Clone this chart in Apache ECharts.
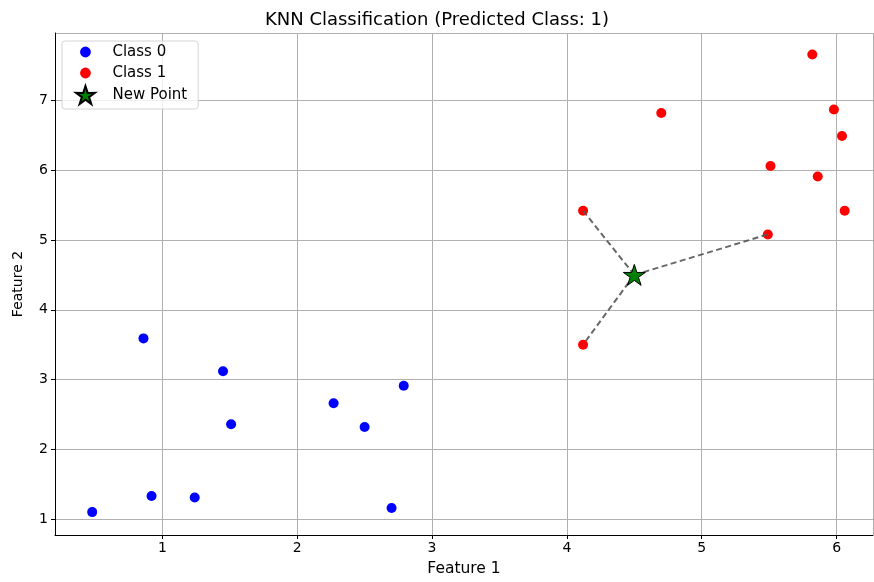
<!DOCTYPE html>
<html>
<head>
<meta charset="utf-8">
<script src="https://cdn.jsdelivr.net/npm/echarts@6/dist/echarts.min.js"></script>
<style>
  html, body { margin: 0; padding: 0; background: #fff; }
  #chart { width: 874px; height: 582px; }
</style>
</head>
<body>
<div id="chart"></div>
<script>
// data
const class0 = [
  [0.48, 1.10], [0.86, 3.59], [0.92, 1.33], [1.24, 1.31], [1.45, 3.12],
  [1.51, 2.36], [2.27, 2.66], [2.50, 2.32], [2.79, 2.91], [2.70, 1.16]
];
const class1 = [
  [5.82, 7.66], [4.70, 6.82], [5.98, 6.87], [6.04, 6.49], [5.51, 6.06],
  [5.86, 5.91], [4.12, 5.42], [6.06, 5.42], [5.49, 5.08], [4.12, 3.50]
];
const newPoint = [4.5, 4.5];
const neighbours = [[4.12, 5.42], [4.12, 3.50], [5.49, 5.08]];
const predicted = 1;

const starPath = 'path://M50 0 L61.17 34.63 L97.55 34.55 L68.07 55.87 L79.39 90.45 L50 69 L20.61 90.45 L31.93 55.87 L2.45 34.55 L38.83 34.63 Z';
// circle with invisible padding so the legend dot stays small
const dotPath = 'path://M0 0 M20 20 M10 4 A6 6 0 1 1 9.99 4 Z';

const font = 'DejaVu Sans';
const chart = echarts.init(document.getElementById('chart'));

const lineSeries = neighbours.map(n => ({
  type: 'line',
  data: [newPoint, n],
  symbol: 'none',
  silent: true,
  z: 3,
  lineStyle: { color: '#555', opacity: 0.9, width: 2, type: [6, 3.5] }
}));

chart.setOption({
  animation: false,
  title: {
    text: `KNN Classification (Predicted Class: ${predicted})`,
    left: 'center',
    top: 6,
    textStyle: { fontFamily: font, fontSize: 18, fontWeight: 'normal', color: '#000' }
  },
  legend: {
    orient: 'vertical',
    left: 62,
    top: 41,
    padding: [2, 11, 4, 13],
    itemWidth: 44,
    itemHeight: 18,
    itemGap: 3,
    backgroundColor: 'rgba(255,255,255,0.8)',
    borderColor: '#d4d4d4',
    borderWidth: 1,
    borderRadius: 3,
    textStyle: { fontFamily: font, fontSize: 15, color: '#000' },
    data: [
      { name: 'Class 0', icon: dotPath },
      { name: 'Class 1', icon: dotPath },
      { name: 'New Point', icon: starPath }
    ]
  },
  grid: { left: 55, right: 1, top: 33, bottom: 42.5 },
  xAxis: {
    type: 'value',
    min: 0.204,
    max: 6.27,
    name: 'Feature 1',
    nameLocation: 'middle',
    nameGap: 26,
    nameTextStyle: { fontFamily: font, fontSize: 15.5, color: '#000' },
    axisLine: { show: true, lineStyle: { color: '#000', width: 1 } },
    axisTick: { show: true, length: 4, lineStyle: { color: '#000' } },
    axisLabel: { showMinLabel: false, showMaxLabel: false, fontFamily: font, fontSize: 14, color: '#000', margin: 6 },
    splitLine: { show: true, lineStyle: { color: '#b0b0b0', width: 1 } }
  },
  yAxis: {
    type: 'value',
    min: 0.772,
    max: 7.967,
    name: 'Feature 2',
    nameLocation: 'middle',
    nameGap: 30,
    nameTextStyle: { fontFamily: font, fontSize: 14, color: '#000' },
    axisLine: { show: true, lineStyle: { color: '#000', width: 1 } },
    axisTick: { show: true, length: 4, lineStyle: { color: '#000' } },
    axisLabel: { showMinLabel: false, showMaxLabel: false, fontFamily: font, fontSize: 14, color: '#000', margin: 7 },
    splitLine: { show: true, lineStyle: { color: '#b0b0b0', width: 1 } }
  },
  series: [
    {
      name: 'Class 0',
      type: 'scatter',
      data: class0,
      symbol: 'circle',
      symbolSize: 10,
      z: 2,
      itemStyle: { color: '#0000ff', opacity: 1 }
    },
    {
      name: 'Class 1',
      type: 'scatter',
      data: class1,
      symbol: 'circle',
      symbolSize: 10,
      z: 2,
      itemStyle: { color: '#ff0000', opacity: 1 }
    },
    ...lineSeries,
    {
      name: 'New Point',
      type: 'scatter',
      data: [newPoint],
      symbol: starPath,
      symbolKeepAspect: true,
      symbolSize: 22,
      z: 4,
      itemStyle: { color: '#008000', borderColor: '#000', borderWidth: 1, opacity: 1 }
    }
  ]
});
</script>
</body>
</html>
